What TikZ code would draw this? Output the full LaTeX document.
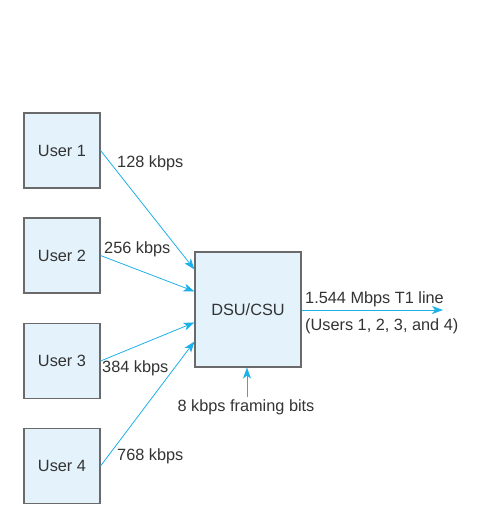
\documentclass[tikz,border=0pt]{standalone}
\usepackage{fontspec}
\setmainfont{Liberation Sans}
\usetikzlibrary{arrows.meta,calc}
\definecolor{boxfill}{HTML}{E3F2FB}
\definecolor{boxline}{HTML}{6A6A6A}
\definecolor{arr}{HTML}{1EB0E8}
\definecolor{txt}{HTML}{333333}
\begin{document}
\begin{tikzpicture}[x=1pt,y=-1pt,
  every node/.style={text=txt,font=\fontsize{16.3}{19}\selectfont},
  userbox/.style={draw=boxline,line width=1.1pt,fill=boxfill,minimum width=76pt,minimum height=75pt,inner sep=0pt},
  conn/.style={draw=arr,line width=0.8pt,-{Stealth[length=11pt,width=8pt,inset=3pt]}},
  lbl/.style={inner sep=0pt,anchor=base west}]
\useasboundingbox (0,0) rectangle (485,528);
\node[userbox] (u1) at (62,150.5) {User 1};
\node[userbox] (u2) at (62,255.5) {User 2};
\node[userbox] (u3) at (62,361) {User 3};
\node[userbox] (u4) at (62,466) {User 4};
\node[userbox,minimum width=106pt,minimum height=115pt] (dsu) at (248,309.5) {DSU/CSU};
\coordinate (e1) at ($(dsu.north west)+(0,18)$);
\coordinate (e2) at ($(dsu.north west)+(0,40)$);
\coordinate (e3) at ($(dsu.north west)+(0,71)$);
\coordinate (e4) at ($(dsu.north west)+(0,90)$);
\coordinate (t1) at (443,310);
\coordinate (fb) at (247,397);
\draw[conn] (u1.east) -- (e1);
\draw[conn] (u2.east) -- (e2);
\draw[conn] (u3.east) -- (e3);
\draw[conn] (u4.east) -- (e4);
\draw[conn] (dsu.east |- t1) -- (t1);
\draw[conn] (fb) -- (dsu.south -| fb);
\node[lbl] (l1) at (117,167) {128 kbps};
\node[lbl] (l2) at (104,253) {256 kbps};
\node[lbl] (l3) at (102,372) {384 kbps};
\node[lbl] (l4) at (117,460) {768 kbps};
\node[lbl] (lt) at (305,303) {1.544 Mbps T1 line};
\node[lbl] (lu) at (305,330) {(Users 1, 2, 3, and 4)};
\node[inner sep=0pt,anchor=base] (lf) at (246,411) {8 kbps framing bits};
\end{tikzpicture}
\end{document}
